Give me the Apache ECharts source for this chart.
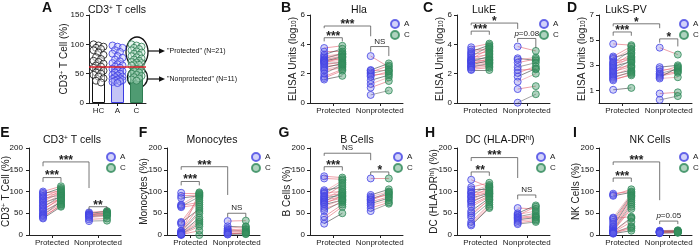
<!DOCTYPE html>
<html>
<head>
<meta charset="utf-8">
<script src="https://cdn.jsdelivr.net/npm/echarts@6/dist/echarts.min.js"></script>
<style>
  html, body { margin: 0; padding: 0; background: #fff; }
  #chart { width: 699px; height: 249px; }
</style>
</head>
<body>
<div id="chart"></div>
<script>
// ---- data ----
// tick labels
const tickAll = [0, 50, 100, 150]
const tickElisa = [0, 2, 4, 6]
const tickPvl = [1, 3, 5, 7]
const tickPct = [0, 50, 100, 150, 200]

// A: CD3+ T cells, all subjects
const groupNames = ['HC', 'A', 'C']
const barMeans = [61, 60, 64]
const cutoff = 62
const cdHC = [100, 98, 96, 94, 92, 90, 86, 82, 78, 75, 72, 70, 67, 64, 62, 60, 57, 55, 52, 50, 48, 45, 42, 38, 35]
const cdA = [98, 96, 94, 90, 87, 84, 80, 77, 74, 71, 68, 66, 64, 62, 60, 58, 56, 54, 52, 50, 48, 47, 45, 44, 42, 41, 40, 39, 38, 37, 36, 34]
const cdC = [100, 98, 96, 94, 92, 90, 88, 86, 84, 82, 80, 78, 76, 74, 72, 70, 69, 68, 66, 65, 64, 58, 56, 54, 52, 50, 48, 46, 44, 42, 40, 38]

// B: Hla
const hlaProtA = [3.75, 3.5, 3.3, 3.2, 3.1, 3.0, 2.95, 2.9, 2.85, 2.8, 2.75, 2.7, 2.6, 2.5, 2.4, 2.3, 2.2, 2.0, 1.8, 1.7, 1.6]
const hlaProtC = [3.9, 3.5, 3.7, 3.35, 3.3, 3.4, 3.2, 3.0, 3.15, 2.9, 3.1, 2.75, 2.8, 2.6, 2.7, 2.5, 2.4, 2.6, 2.3, 2.2, 1.85]
const hlaNonA = [3.2, 2.25, 2.2, 2.1, 2.0, 1.9, 1.8, 1.55, 1.3, 1.05, 0.55]
const hlaNonC = [2.45, 2.7, 2.2, 2.55, 2.3, 2.0, 2.15, 1.9, 1.75, 1.5, 0.85]

// C: LukE
const lukeProtA = [3.8, 3.65, 3.5, 3.4, 3.3, 3.2, 3.1, 3.0, 2.95, 2.9, 2.85, 2.8, 2.75, 2.7, 2.6, 2.55, 2.5, 2.45, 2.4, 2.3, 2.25]
const lukeProtC = [4.05, 3.6, 3.95, 3.8, 3.5, 3.85, 3.3, 3.7, 3.1, 3.4, 2.95, 3.2, 2.8, 3.0, 2.9, 2.75, 2.6, 2.7, 2.5, 2.4, 2.25]
const lukeNonA = [3.85, 3.05, 2.95, 2.75, 2.45, 2.25, 2.05, 1.8, 1.45, 0.95, 0.02]
const lukeNonC = [3.55, 2.9, 3.1, 3.0, 2.75, 2.3, 2.5, 2.35, 2.0, 1.15, 0.6]

// D: LukS-PV
const pvlProtA = [4.7, 3.7, 3.6, 3.5, 3.3, 3.2, 3.1, 3.0, 2.9, 2.8, 2.7, 2.6, 2.5, 2.4, 2.3, 2.2, 2.1, 2.0, 1.9, 1.8, 1.05]
const pvlProtC = [4.6, 4.5, 4.0, 4.3, 3.6, 4.2, 3.5, 3.9, 3.3, 3.7, 3.0, 3.4, 2.9, 3.2, 2.6, 2.8, 2.4, 2.5, 2.2, 2.3, 1.2]
const pvlNonA = [4.4, 2.85, 2.7, 2.5, 2.35, 2.25, 2.15, 2.05, 1.95, 0.75, 0.25]
const pvlNonC = [3.85, 3.0, 2.6, 2.9, 2.7, 2.5, 2.4, 2.8, 2.05, 0.85, 0.55]

// E: CD3+ T cells
const cd3ProtA = [100, 97, 94, 90, 87, 84, 80, 77, 74, 70, 67, 64, 60, 57, 54, 50, 47, 45, 43, 40, 38]
const cd3ProtC = [112, 100, 108, 96, 105, 92, 102, 98, 88, 94, 84, 90, 82, 86, 75, 80, 72, 78, 67, 70, 65]
const cd3NonA = [52, 50, 48, 47, 46, 45, 44, 42, 40, 36, 32]
const cd3NonC = [55, 54, 51, 52, 50, 48, 47, 45, 44, 38, 33]

// F: Monocytes
const monoProtA = [97, 90, 85, 70, 68, 66, 64, 30, 28, 25, 10, 8, 6, 5, 4, 3, 2, 2, 1, 1, 0]
const monoProtC = [96, 92, 90, 94, 75, 88, 70, 85, 60, 80, 65, 55, 50, 98, 40, 35, 30, 25, 20, 10, 0]
const monoNonA = [32, 20, 15, 12, 10, 8, 6, 5, 4, 2, 1]
const monoNonC = [33, 18, 20, 14, 9, 12, 8, 5, 3, 6, 2]

// G: B cells
const bcellProtA = [135, 130, 103, 100, 97, 95, 90, 88, 85, 82, 80, 77, 75, 72, 70, 65, 60, 55, 42, 35, 26]
const bcellProtC = [132, 128, 110, 125, 100, 120, 95, 115, 92, 105, 88, 98, 85, 90, 80, 82, 75, 78, 70, 65, 50]
const bcellNonA = [130, 92, 88, 85, 82, 80, 76, 72, 68, 62, 55]
const bcellNonC = [130, 105, 100, 92, 98, 95, 88, 85, 80, 75, 72]

// H: DC (HLA-DRhi)
const dcProtA = [127, 110, 105, 100, 97, 95, 90, 88, 85, 80, 78, 75, 70, 65, 55, 50, 45, 40, 30, 25, 22]
const dcProtC = [110, 120, 105, 115, 100, 112, 98, 108, 96, 102, 93, 95, 90, 88, 85, 80, 82, 75, 70, 65, 62]
const dcNonA = [62, 50, 47, 45, 42, 40, 38, 35, 32, 28, 25]
const dcNonC = [60, 68, 55, 65, 50, 45, 42, 40, 36, 33, 30]

// I: NK cells
const nkProtA = [95, 92, 90, 40, 38, 35, 30, 25, 20, 18, 15, 12, 10, 9, 8, 7, 6, 5, 5, 4, 3]
const nkProtC = [100, 105, 98, 95, 42, 92, 90, 88, 85, 80, 75, 70, 65, 60, 40, 38, 30, 20, 18, 15, 10]
const nkNonA = [10, 9, 8, 8, 7, 7, 6, 6, 5, 5, 4]
const nkNonC = [11, 10, 9, 9, 8, 8, 7, 7, 6, 6, 5]

// significance brackets: [from, to, level, left end, right end, label]
const PA = 'PA', PC = 'PC', NA = 'NA', NC = 'NC'
const hlaSig = [[PA, PC, 4.45, 4.2, 4.2, '***'], [PA, NA, 5.25, 5.1, 4.55, '***'], [NA, NC, 3.85, 3.5, 3.2, 'NS']]
const lukeSig = [[PA, PC, 4.9, 4.65, 4.65, '***'], [PA, NA, 5.45, 5.3, 5.05, '*'], [NA, NC, 4.4, 4.15, 3.75, 'p=0.08']]
const pvlSig = [[PA, PC, 5.65, 5.35, 5.35, '***'], [PA, NA, 6.3, 6.1, 5.95, '*'], [NA, NC, 5.1, 4.8, 4.5, '*']]
const cd3Sig = [[PA, PC, 132, 122, 122, '***'], [PA, NA, 168, 158, 108, '***'], [NA, NC, 65, 57, 57, '**']]
const monoSig = [[PA, PC, 123, 114, 114, '***'], [PA, NA, 157, 150, 92, '***'], [NA, NC, 50, 41, 41, 'NS']]
const bcellSig = [[PA, PC, 157, 148, 148, '***'], [PA, NA, 188, 182, 172, 'NS'], [NA, NC, 145, 138, 138, '*']]
const dcSig = [[PA, PC, 145, 136, 136, '**'], [PA, NA, 178, 170, 131, '***'], [NA, NC, 92, 82, 85, 'NS']]
const nkSig = [[PA, PC, 131, 122, 122, '***'], [PA, NA, 168, 161, 80, '***'], [NA, NC, 32, 25, 25, 'p=0.05']]

// ---- styles / layout ----
const FONT = '"Liberation Sans", Arial, sans-serif'
const INK = '#222'
const OFF = 0.39
const XPOS = { PA: 1 - OFF, PC: 1 + OFF, NA: 3 - OFF, NC: 3 + OFF }
const pairColors = ['#e0606e', '#e0606e', '#3a3a3a', '#ea8d97', '#e0606e', '#666']
const dotA = { color: 'rgba(95,95,235,0.35)', borderColor: '#4444e4', borderWidth: 1 }
const dotC = { color: 'rgba(55,145,95,0.5)', borderColor: '#2f8a5a', borderWidth: 1 }

const topRow = { top: 15, height: 88 }
const botRow = { top: 148, height: 87 }

const panels = [
  { letter: 'B', lx: 286, title: 'Hla', tx: 359, left: 310, row: topRow, max: 6, ticks: tickElisa, yName: 'ELISA Units (log{sub|10})', gap: 12, data: [hlaProtA, hlaProtC, hlaNonA, hlaNonC], sig: hlaSig, legend: 390 },
  { letter: 'C', lx: 428, title: 'LukE', tx: 484, left: 457, row: topRow, max: 6, ticks: tickElisa, yName: 'ELISA Units (log{sub|10})', gap: 12, data: [lukeProtA, lukeProtC, lukeNonA, lukeNonC], sig: lukeSig, legend: 539 },
  { letter: 'D', lx: 572, title: 'LukS-PV', tx: 626, left: 599, row: topRow, max: 7, ticks: tickPvl, yName: 'ELISA Units (log{sub|10})', gap: 12, data: [pvlProtA, pvlProtC, pvlNonA, pvlNonC], sig: pvlSig, legend: 679 },
  { letter: 'E', lx: 5, title: 'CD3{sup|+} T cells', tx: 72, left: 28, row: botRow, max: 200, ticks: tickPct, yName: 'CD3{sup|+} T Cell (%)', gap: 18, data: [cd3ProtA, cd3ProtC, cd3NonA, cd3NonC], sig: cd3Sig, legend: 106 },
  { letter: 'F', lx: 143, title: 'Monocytes', tx: 212, left: 167, row: botRow, max: 200, ticks: tickPct, yName: 'Monocytes (%)', gap: 18, data: [monoProtA, monoProtC, monoNonA, monoNonC], sig: monoSig, legend: 251 },
  { letter: 'G', lx: 284, title: 'B Cells', tx: 357, left: 310, row: botRow, max: 200, ticks: tickPct, yName: 'B Cells (%)', gap: 18, data: [bcellProtA, bcellProtC, bcellNonA, bcellNonC], sig: bcellSig, legend: 393 },
  { letter: 'H', lx: 430, title: 'DC (HLA-DR{sup|hi})', tx: 500, left: 457, row: botRow, max: 200, ticks: tickPct, yName: 'DC (HLA-DR{sup|hi}) (%)', gap: 18, data: [dcProtA, dcProtC, dcNonA, dcNonC], sig: dcSig, legend: 536 },
  { letter: 'I', lx: 575, title: 'NK Cells', tx: 650, left: 599, row: botRow, max: 200, ticks: tickPct, yName: 'NK Cells (%)', gap: 18, data: [nkProtA, nkProtC, nkNonA, nkNonC], sig: nkSig, legend: 679 },
]

const richMarks = {
  sup: { fontSize: 6.5, verticalAlign: 'top', fontFamily: FONT, color: INK },
  sub: { fontSize: 6.5, verticalAlign: 'bottom', fontFamily: FONT, color: INK },
  it: { fontStyle: 'italic', fontSize: 8, fontFamily: FONT, color: INK },
}

function axisLine() {
  return { show: true, onZero: false, lineStyle: { color: INK, width: 1 } }
}

function yAxisFor(gi, max, ticks, name, gap) {
  return {
    type: 'value', gridIndex: gi, min: 0, max,
    name, nameLocation: 'middle', nameGap: gap,
    nameTextStyle: { fontSize: 10, color: INK, fontFamily: FONT, rich: richMarks },
    axisLine: axisLine(),
    axisTick: { show: true, length: 3, customValues: ticks, lineStyle: { color: INK } },
    axisLabel: { show: false },
    splitLine: { show: false },
  }
}

function jitter(i) {
  return [-5, 0, 5, -2.5, 2.5][i % 5]
}

const option = {
  animation: false,
  textStyle: { fontFamily: FONT },
  grid: [], xAxis: [], yAxis: [], series: [], legend: [], graphic: [],
}

function label(x, y, text, size, weight, align) {
  return {
    type: 'text', x, y, silent: true, z: 100,
    style: {
      text, fill: '#111', fontSize: size, fontWeight: weight || 'normal', fontFamily: FONT,
      align: align || 'center', verticalAlign: 'middle', rich: richMarks,
    },
  }
}

// tick numbers for a grid, placed along that grid's linear y scale
function tickNumbers(grid, max, ticks) {
  ticks.forEach(t => {
    const y = grid.top + grid.height * (1 - t / max)
    const txt = String(t)
    option.graphic.push(label(grid.left - 5 - txt.length * 2.25, y, txt, 8))
  })
}

/// panel A ///
const gridA = { left: 89, top: 15, width: 57, height: 88 }
option.grid.push(gridA)
option.xAxis.push({
  type: 'value', gridIndex: 0, min: -0.5, max: 2.5,
  axisLine: axisLine(),
  axisTick: { show: true, length: 3, customValues: [0, 1, 2], lineStyle: { color: INK } },
  axisLabel: {
    customValues: [0, 1, 2], fontSize: 8, color: INK, margin: 4, fontFamily: FONT,
    formatter: v => groupNames[Math.round(v)],
  },
  splitLine: { show: false },
})
option.yAxis.push(yAxisFor(0, 150, tickAll, 'CD3{sup|+} T Cell (%)', 20))
tickNumbers(gridA, 150, tickAll)
const barStyles = [
  { color: '#fff', borderColor: '#111', borderWidth: 1 },
  { color: '#c4c4f6', borderColor: '#3c3ce2', borderWidth: 1 },
  { color: '#4f9b72', borderColor: '#2e7d52', borderWidth: 1 },
]
option.series.push({
  type: 'bar', xAxisIndex: 0, yAxisIndex: 0, barWidth: 13, silent: true,
  data: barMeans.map((v, i) => ({ value: [i, v], itemStyle: barStyles[i] })),
})
const groupDots = [
  { color: 'rgba(255,255,255,0.6)', borderColor: '#111', borderWidth: 1 },
  { color: 'rgba(190,190,250,0.5)', borderColor: '#3c3ce2', borderWidth: 1 },
  { color: 'rgba(200,235,215,0.5)', borderColor: '#2e7d52', borderWidth: 1 },
]
;[cdHC, cdA, cdC].forEach((vals, k) => {
  const s = {
    type: 'scatter', name: 'all-' + groupNames[k], xAxisIndex: 0, yAxisIndex: 0,
    symbolSize: 7, itemStyle: groupDots[k], silent: true,
    data: vals.map((v, i) => ({ value: [k, v], symbolOffset: [jitter(i), 0] })),
  }
  if (k === 2) {
    s.markLine = {
      silent: true, symbol: 'none', label: { show: false },
      lineStyle: { color: '#e0202a', width: 1.5, type: 'solid' },
      data: [{ yAxis: cutoff }],
    }
  }
  option.series.push(s)
})

/// paired panels ///
panels.forEach((p, n) => {
  const gi = n + 1
  const grid = { left: p.left, top: p.row.top, width: 93, height: p.row.height }
  option.grid.push(grid)
  option.xAxis.push({
    type: 'value', gridIndex: gi, min: 0, max: 4,
    axisLine: axisLine(),
    axisTick: { show: true, length: 3, customValues: [1, 3], lineStyle: { color: INK } },
    axisLabel: {
      customValues: [1, 3], fontSize: 8, color: INK, margin: 4, fontFamily: FONT,
      formatter: v => (v === 1 ? 'Protected' : 'Nonprotected'),
    },
    splitLine: { show: false },
  })
  option.yAxis.push(yAxisFor(gi, p.max, p.ticks, p.yName, p.gap))
  tickNumbers(grid, p.max, p.ticks)

  const [protA, protC, nonA, nonC] = p.data
  const pairs = []
  protA.forEach((v, i) => pairs.push({ coords: [[XPOS.PA, v], [XPOS.PC, protC[i]]], lineStyle: { color: pairColors[i % pairColors.length] } }))
  nonA.forEach((v, i) => pairs.push({ coords: [[XPOS.NA, v], [XPOS.NC, nonC[i]]], lineStyle: { color: pairColors[(i + 1) % pairColors.length] } }))
  option.series.push({
    type: 'lines', coordinateSystem: 'cartesian2d', xAxisIndex: gi, yAxisIndex: gi,
    silent: true, z: 1, lineStyle: { width: 0.7, opacity: 0.85 }, data: pairs,
  })
  option.series.push({
    type: 'scatter', name: 'A', xAxisIndex: gi, yAxisIndex: gi, symbolSize: 7, z: 2,
    itemStyle: dotA, silent: true,
    data: protA.map(v => [XPOS.PA, v]).concat(nonA.map(v => [XPOS.NA, v])),
  })
  option.series.push({
    type: 'scatter', name: 'C', xAxisIndex: gi, yAxisIndex: gi, symbolSize: 7, z: 2,
    itemStyle: dotC, silent: true,
    data: protC.map(v => [XPOS.PC, v]).concat(nonC.map(v => [XPOS.NC, v])),
  })

  const sig = p.sig
  option.series.push({
    type: 'custom', xAxisIndex: gi, yAxisIndex: gi, silent: true, clip: false, z: 5,
    data: sig.map(b => [XPOS[b[0]], b[2]]),
    renderItem: (params, api) => {
      const b = sig[params.dataIndex]
      const x1 = XPOS[b[0]], x2 = XPOS[b[1]]
      const p1 = api.coord([x1, b[3]]), p2 = api.coord([x1, b[2]])
      const p3 = api.coord([x2, b[2]]), p4 = api.coord([x2, b[4]])
      const stars = b[5].indexOf('*') === 0
      let text = b[5]
      if (text.indexOf('p=') === 0) text = '{it|p}' + text.slice(1)
      return {
        type: 'group',
        children: [
          { type: 'polyline', shape: { points: [p1, p2, p3, p4] }, style: { stroke: '#555', lineWidth: 0.8, fill: null } },
          {
            type: 'text', x: (p2[0] + p3[0]) / 2, y: stars ? p2[1] + 4.5 : p2[1] - 1,
            style: {
              text, fill: INK, fontFamily: FONT, fontSize: stars ? 12 : 8, fontWeight: stars ? 'bold' : 'normal',
              align: 'center', verticalAlign: 'bottom', rich: richMarks,
            },
          },
        ],
      }
    },
  })

  option.legend.push({
    data: ['A', 'C'], left: p.legend, top: p.row.top + 4, orient: 'vertical',
    icon: 'circle', itemWidth: 8, itemHeight: 8, itemGap: 1, padding: 0,
    textStyle: { fontSize: 8, color: INK, fontFamily: FONT },
    selectedMode: false,
  })
})

/// letters, titles, annotations ///
option.graphic.push(label(47, 8, 'A', 14, 'bold'))
option.graphic.push(label(117, 10, 'CD3{sup|+} T cells', 10.5))
panels.forEach(p => {
  const y0 = p.row === topRow ? 8 : 133
  option.graphic.push(label(p.lx, y0, p.letter, 14, 'bold'))
  option.graphic.push(label(p.tx, y0 + (p.row === topRow ? 2 : 7), p.title, 10.5))
})

// circled groups in panel A with arrows
const ringStyle = { stroke: '#111', lineWidth: 1.3, fill: null }
option.graphic.push({ type: 'ellipse', silent: true, shape: { cx: 137, cy: 52, rx: 11, ry: 15 }, style: ringStyle })
option.graphic.push({ type: 'ellipse', silent: true, shape: { cx: 137.5, cy: 77.5, rx: 10, ry: 10.5 }, style: ringStyle })
;[[51, '"Protected" (N=21)'], [79, '"Nonprotected" (N=11)']].forEach(([y, t]) => {
  option.graphic.push({ type: 'line', silent: true, shape: { x1: 148, y1: y, x2: 160, y2: y }, style: { stroke: '#111', lineWidth: 1.2 } })
  option.graphic.push({ type: 'polygon', silent: true, shape: { points: [[159, y - 2.8], [165, y], [159, y + 2.8]] }, style: { fill: '#111' } })
  option.graphic.push(label(167, y, t, 7, 'normal', 'left'))
})

const chart = echarts.init(document.getElementById('chart'), null, { renderer: 'canvas' })
chart.setOption(option)
</script>
</body>
</html>
